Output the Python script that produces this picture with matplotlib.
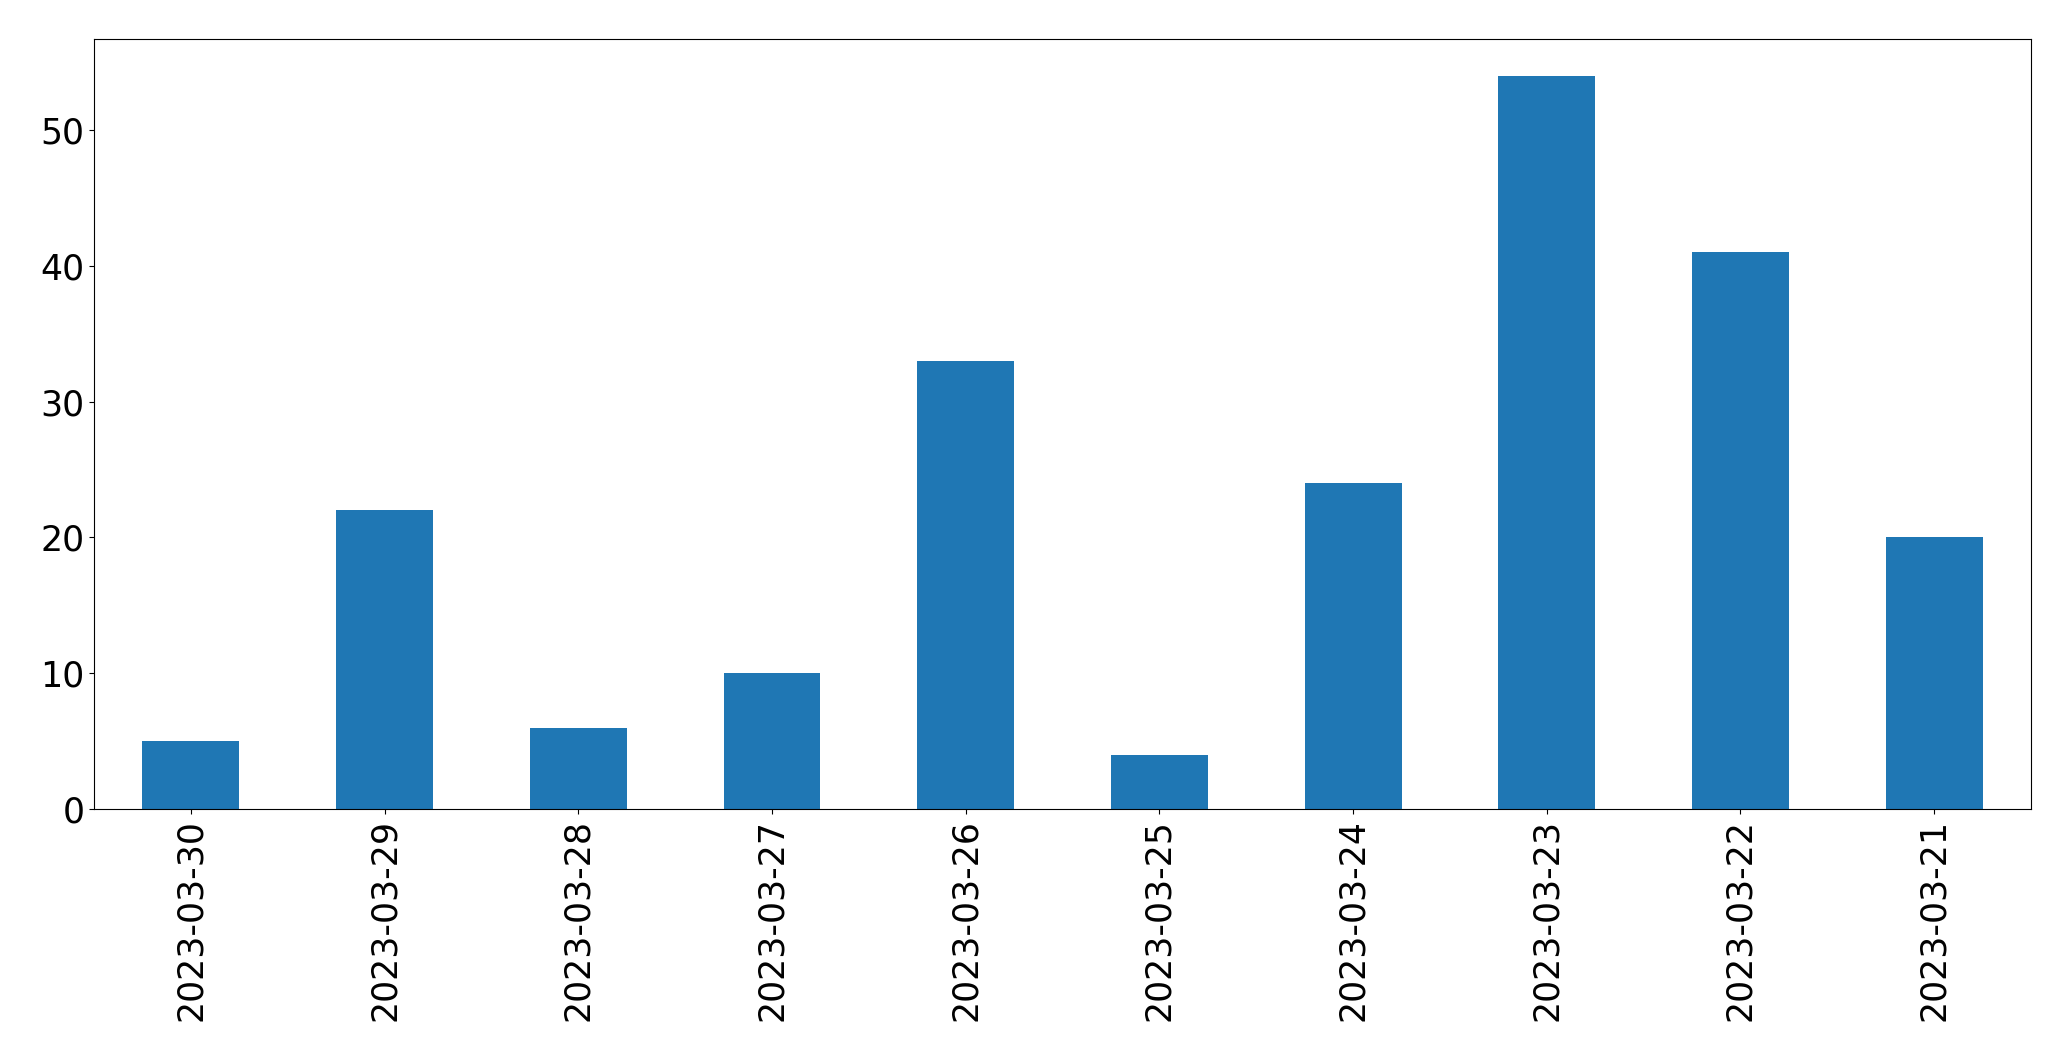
import matplotlib
matplotlib.use('Agg')
import matplotlib.pyplot as plt
import pandas as pd

dates = ['2023-03-30', '2023-03-29', '2023-03-28', '2023-03-27', '2023-03-26',
         '2023-03-25', '2023-03-24', '2023-03-23', '2023-03-22', '2023-03-21']
counts = [5, 22, 6, 10, 33, 4, 24, 54, 41, 20]

s = pd.Series(counts, index=dates)

fig, ax = plt.subplots(figsize=(20.71, 10.61), dpi=100)
s.plot(kind='bar', ax=ax, color='#1f77b4')
ax.tick_params(axis='both', labelsize=25)
fig.subplots_adjust(left=0.0454, right=0.9807, top=0.9632, bottom=0.2375)
fig.savefig('out.png', dpi=100)
